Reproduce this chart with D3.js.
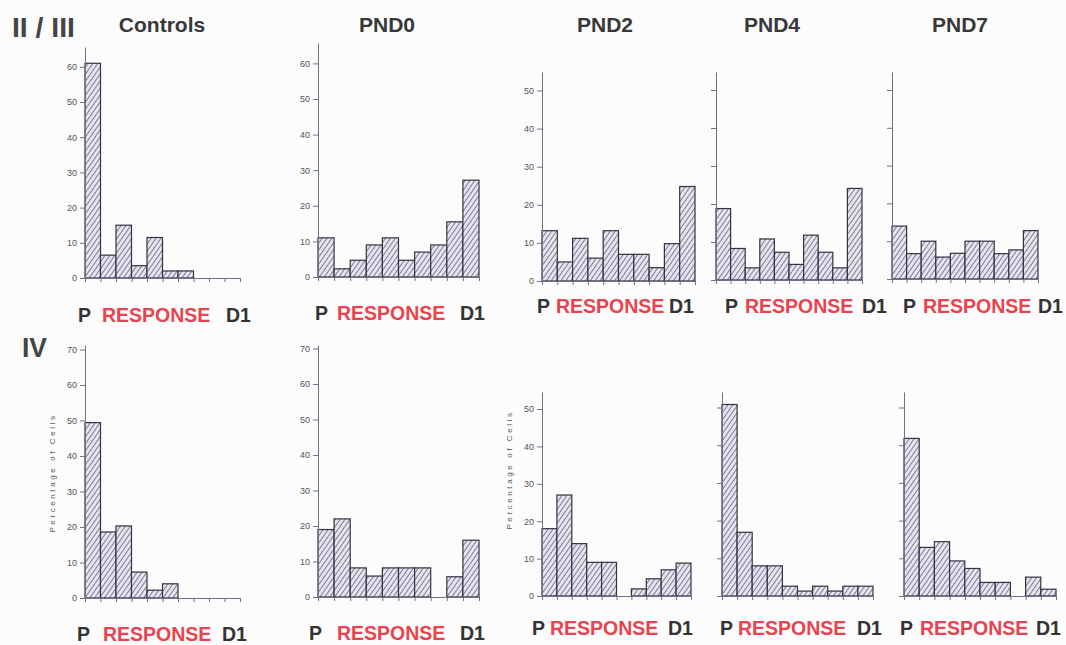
<!DOCTYPE html>
<html>
<head>
<meta charset="utf-8">
<script src="https://cdn.jsdelivr.net/npm/d3@7"></script>
<style>
  body { margin: 0; background: #fcfcfc; }
  svg { display: block; font-family: "Liberation Sans", Arial, sans-serif; }
  .tick text { font-size: 9px; fill: #555; }
  .axis path, .axis line { stroke: #707088; stroke-width: 1; }
</style>
</head>
<body>
<div id="chart"></div>
<script>
// Data: percentage of cells per response bin (P ... D1), 10 bins
const bins = d3.range(10);
const ctrlTop = [61, 6.5, 15, 3.5, 11.5, 2, 2, 0, 0, 0];
const pnd0Top = [11, 2.3, 4.7, 9, 11, 4.7, 7, 9, 15.5, 27.2];
const pnd2Top = [13.2, 5, 11.2, 6, 13.2, 7, 7, 3.5, 9.8, 24.8];
const pnd4Top = [18.8, 8.3, 3.2, 10.8, 7.3, 4.1, 11.8, 7.3, 3.2, 24.1];
const pnd7Top = [14, 6.7, 10, 5.8, 6.8, 10, 10, 6.7, 7.7, 12.8];
const ctrlIV = [49.4, 18.6, 20.3, 7.3, 2.2, 4, 0, 0, 0, 0];
const pnd0IV = [19, 22, 8.2, 5.9, 8.2, 8.2, 8.2, 0, 5.7, 16];
const pnd2IV = [18, 27, 14, 9, 9, 0, 1.9, 4.6, 7, 8.8];
const pnd4IV = [50.8, 16.9, 8, 8, 2.6, 1.3, 2.6, 1.3, 2.6, 2.6];
const pnd7IV = [41.8, 12.9, 14.4, 9.3, 7.3, 3.6, 3.6, 0, 5, 1.8];

const groupTitles = ["Controls", "PND0", "PND2", "PND4", "PND7"];
const rowTitles = ["II / III", "IV"];
const ticks60 = [0, 10, 20, 30, 40, 50, 60];
const ticks70 = [0, 10, 20, 30, 40, 50, 60, 70];
const ticks50 = [0, 10, 20, 30, 40, 50];
const yTitle = "Percentage of Cells";

const width = 1066, height = 645;

const svg = d3.select("#chart")
  .append("svg")
  .attr("width", width)
  .attr("height", height);

svg.append("rect").attr("width", width).attr("height", height).attr("fill", "#fcfcfc");

// hatch pattern (/// lines)
const pat = svg.append("defs").append("pattern")
  .attr("id", "hatch")
  .attr("patternUnits", "userSpaceOnUse")
  .attr("width", 4).attr("height", 4)
  .attr("patternTransform", "rotate(35)");
pat.append("rect").attr("width", 4).attr("height", 4).attr("fill", "#e6e4f0");
pat.append("line").attr("x1", 0).attr("y1", 0).attr("x2", 0).attr("y2", 4)
  .attr("stroke", "#45455a").attr("stroke-width", 1.3);

// panel layout
const panels = [
  { data: ctrlTop, x0: 85, x1: 240, y0: 278, y10: 35.2, top: 47, ticks: ticks60, labels: true,
    lab: { p: 78, r: 102, d: 226, base: 322 } },
  { data: pnd0Top, x0: 318, x1: 479, y0: 277, y10: 35.6, top: 43, ticks: ticks60, labels: true,
    lab: { p: 315, r: 337, d: 460, base: 320 } },
  { data: pnd2Top, x0: 542, x1: 695, y0: 281, y10: 38.1, top: 72, ticks: ticks50, labels: true,
    lab: { p: 537, r: 556, d: 669, base: 313 } },
  { data: pnd4Top, x0: 716, x1: 862, y0: 280, y10: 38, top: 72, ticks: ticks50, labels: false,
    lab: { p: 725, r: 745, d: 862, base: 313 } },
  { data: pnd7Top, x0: 892, x1: 1038, y0: 279, y10: 37.8, top: 72, ticks: ticks50, labels: false,
    lab: { p: 903, r: 923, d: 1038, base: 313 } },
  { data: ctrlIV, x0: 85, x1: 240, y0: 598, y10: 35.5, top: 345, ticks: ticks70, labels: true,
    lab: { p: 77, r: 103, d: 222, base: 641 }, ytitle: { x: 52, y: 473 } },
  { data: pnd0IV, x0: 318, x1: 479, y0: 597, y10: 35.5, top: 345, ticks: ticks70, labels: true,
    lab: { p: 309, r: 337, d: 460, base: 640 } },
  { data: pnd2IV, x0: 542, x1: 691, y0: 596, y10: 37.4, top: 392, ticks: ticks50, labels: true,
    lab: { p: 532, r: 550, d: 668, base: 635 }, ytitle: { x: 509, y: 470 } },
  { data: pnd4IV, x0: 722, x1: 873, y0: 596, y10: 37.7, top: 392, ticks: ticks50, labels: false,
    lab: { p: 720, r: 738, d: 857, base: 635 } },
  { data: pnd7IV, x0: 904, x1: 1056, y0: 596, y10: 37.7, top: 392, ticks: ticks50, labels: false,
    lab: { p: 900, r: 920, d: 1036, base: 635 } }
];

panels.forEach(p => {
  const yMax = (p.y0 - p.top) / p.y10 * 10;
  const y = d3.scaleLinear().domain([0, yMax]).range([p.y0, p.top]);
  const x = d3.scaleLinear().domain([0, 10]).range([p.x0, p.x1]);
  const g = svg.append("g");

  // bars
  g.selectAll(".bar")
    .data(bins.filter(i => p.data[i] > 0))
    .enter()
    .append("rect")
    .attr("x", i => x(i))
    .attr("y", i => y(p.data[i]))
    .attr("width", i => x(i + 1) - x(i))
    .attr("height", i => y(0) - y(p.data[i]))
    .attr("fill", "url(#hatch)")
    .attr("stroke", "#33333f")
    .attr("stroke-width", 1.2);

  // y axis
  g.append("g")
    .attr("class", "axis")
    .attr("transform", `translate(${p.x0},0)`)
    .call(d3.axisLeft(y).tickValues(p.ticks).tickSize(5).tickSizeOuter(0).tickPadding(3)
      .tickFormat(p.labels ? d3.format("d") : () => ""));

  // x axis
  g.append("g")
    .attr("class", "axis")
    .attr("transform", `translate(0,${p.y0})`)
    .call(d3.axisBottom(x).tickValues(d3.range(11)).tickSize(4).tickSizeOuter(0).tickFormat(() => ""));

  // x label
  const lab = g.append("g").style("font-weight", "bold").style("font-size", "19.5px");
  lab.append("text").attr("x", p.lab.p).attr("y", p.lab.base).attr("fill", "#333").text("P");
  lab.append("text").attr("x", p.lab.r).attr("y", p.lab.base).attr("fill", "#e8434f").text("RESPONSE");
  lab.append("text").attr("x", p.lab.d).attr("y", p.lab.base).attr("fill", "#333").text("D1");

  if (p.ytitle) {
    g.append("text")
      .attr("transform", `translate(${p.ytitle.x},${p.ytitle.y}) rotate(-90)`)
      .attr("text-anchor", "middle")
      .attr("dy", "0.35em")
      .style("font-size", "8px")
      .style("letter-spacing", "2.6px")
      .attr("fill", "#555")
      .text(yTitle);
  }
});

// titles
const titleX = [162, 387, 605, 772, 960];
svg.selectAll(".gtitle")
  .data(groupTitles)
  .enter()
  .append("text")
  .attr("x", (d, i) => titleX[i])
  .attr("y", 32)
  .attr("text-anchor", "middle")
  .style("font-size", "21px")
  .style("font-weight", "bold")
  .attr("fill", "#383838")
  .text(d => d);

svg.append("text")
  .attr("x", 12).attr("y", 37)
  .attr("textLength", 63).attr("lengthAdjust", "spacingAndGlyphs")
  .style("font-size", "27px").style("font-weight", "bold")
  .attr("fill", "#444")
  .text(rowTitles[0]);

svg.append("text")
  .attr("x", 22).attr("y", 357)
  .attr("textLength", 25).attr("lengthAdjust", "spacingAndGlyphs")
  .style("font-size", "27px").style("font-weight", "bold")
  .attr("fill", "#444")
  .text(rowTitles[1]);
</script>
</body>
</html>
